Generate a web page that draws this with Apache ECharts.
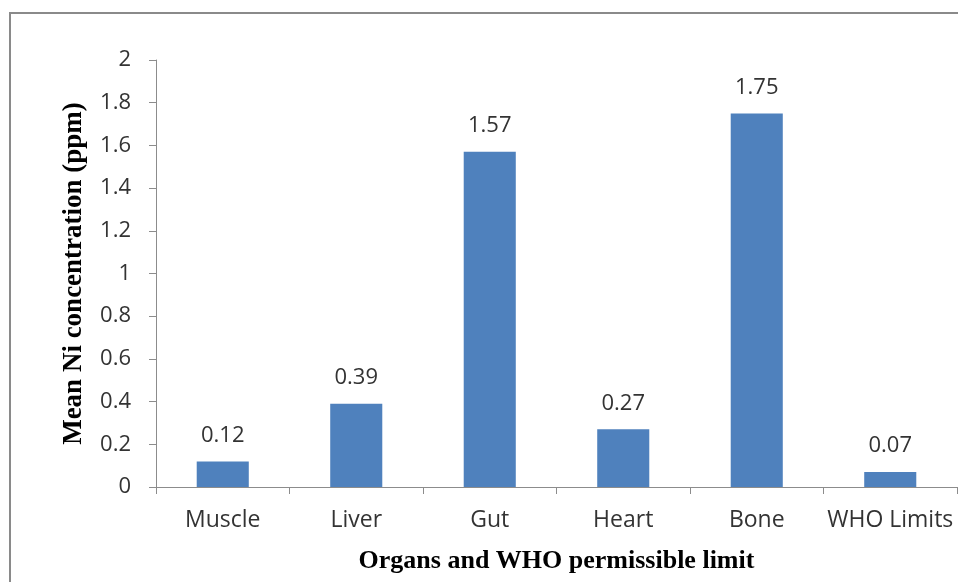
<!DOCTYPE html>
<html>
<head>
<meta charset="utf-8">
<script src="https://cdn.jsdelivr.net/npm/echarts@6/dist/echarts.min.js"></script>
<style>html,body{margin:0;padding:0;background:#fff}#c{width:958px;height:582px}</style>
</head>
<body>
<div id="c"></div>
<script>
const categories = ['Muscle', 'Liver', 'Gut', 'Heart', 'Bone', 'WHO Limits'];
const values = [0.12, 0.39, 1.57, 0.27, 1.75, 0.07];
const yTicks = [0, 0.2, 0.4, 0.6, 0.8, 1, 1.2, 1.4, 1.6, 1.8, 2];

const FONT = 'Open Sans';
const chart = echarts.init(document.getElementById('c'));
chart.setOption({
  animation: false,
  backgroundColor: '#fff',
  graphic: [{
    type: 'rect', silent: true,
    shape: { x: 10, y: 13, width: 1200, height: 1200 },
    style: { fill: 'none', stroke: '#8a8a8a', lineWidth: 2 }
  }],
  grid: { left: 156, right: 1, top: 60, bottom: 95, containLabel: false, outerBoundsMode: 'none' },
  xAxis: {
    type: 'category',
    data: categories,
    axisLine: { lineStyle: { color: '#8c8c8c', width: 1 } },
    axisTick: { show: true, alignWithLabel: false, length: 7, lineStyle: { color: '#8c8c8c' } },
    axisLabel: { color: '#333', fontSize: 23, fontFamily: FONT, margin: 22, interval: 0 },
    name: 'Organs and WHO permissible limit',
    nameLocation: 'middle',
    nameGap: 61,
    nameTextStyle: { fontFamily: 'Liberation Serif', fontWeight: 'bold', fontSize: 26, color: '#000', verticalAlign: 'top' }
  },
  yAxis: {
    type: 'value',
    min: 0, max: 2, interval: 0.2,
    splitLine: { show: false },
    axisLine: { show: true, lineStyle: { color: '#8c8c8c', width: 1 } },
    axisTick: { show: true, length: 7, lineStyle: { color: '#8c8c8c' } },
    axisLabel: {
      color: '#333', fontSize: 22, fontFamily: FONT, margin: 25,
      formatter: v => { const t = yTicks.find(x => Math.abs(x - v) < 1e-9); return t === undefined ? '' : String(t); }
    },
    name: 'Mean Ni concentration (ppm)',
    nameLocation: 'middle',
    nameGap: 68,
    nameTextStyle: { fontFamily: 'Liberation Serif', fontWeight: 'bold', fontSize: 27, color: '#000' }
  },
  series: [{
    type: 'bar',
    data: values,
    barWidth: '39%',
    itemStyle: { color: '#4F81BD' },
    label: { show: true, position: 'top', distance: 15, color: '#333', fontSize: 22, fontFamily: FONT, formatter: p => p.value.toFixed(2) }
  }]
});
</script>
</body>
</html>
